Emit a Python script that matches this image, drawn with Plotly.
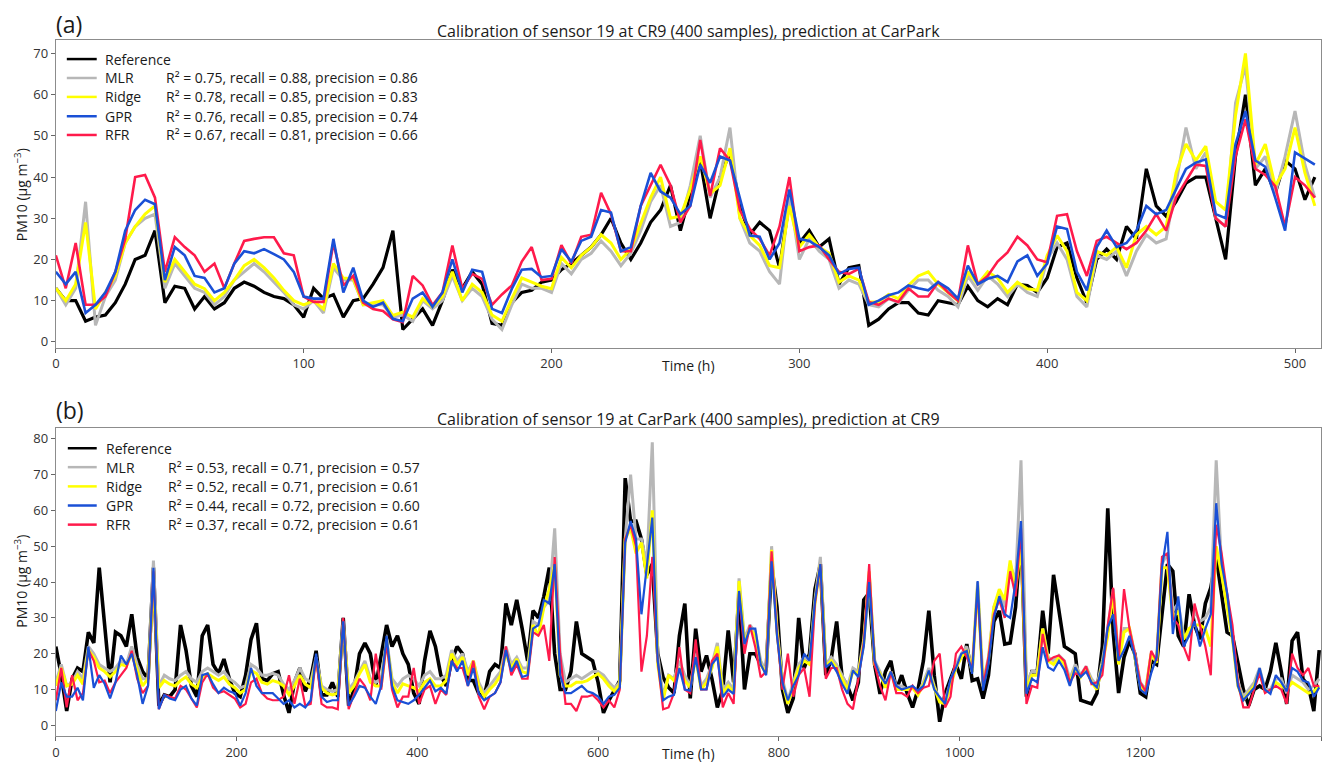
import plotly.graph_objects as go

W, H = 1334, 764

# ---------------- data: panel (a) (every 4 h) ----------------
hours_a = list(range(0, 512, 4))

ref_a = [13, 10, 10, 5, 6, 6.5, 9.5, 14, 20, 21,
         27, 9.5, 13.5, 13, 8, 11, 8, 9.5, 13, 14.5,
         13.5, 12, 11, 10.5, 9, 6, 13, 10.5, 11.5, 6,
         10, 10.5, 14, 18, 27, 3, 5.5, 8, 4, 10,
         17.5, 13, 17, 14, 4.5, 4, 9.5, 12, 12.5, 14.5,
         15, 17.5, 19, 21, 23, 26, 30, 24, 20, 24,
         29, 32, 38, 27, 36, 44, 30, 40, 46, 33,
         26, 29, 27, 18, 34, 24, 27, 23, 25, 14,
         18, 18.5, 4, 5.5, 8, 9.5, 9.5, 7, 6.5, 10,
         9.5, 9, 13.5, 10, 8.5, 10.5, 9, 14, 13.7, 12,
         15.5, 23, 24, 15.5, 9.5, 20, 22.5, 20, 28, 25,
         42, 33, 30.5, 34, 38.5, 40, 40, 30, 20, 45,
         60, 38, 42, 36, 44, 42, 34.5, 40]

mlr_a = [13, 9, 13, 34, 4, 11, 15, 24, 28, 30,
         31, 13, 19, 16, 13, 12, 9, 11, 15, 17,
         19, 17, 14.5, 12, 9, 8, 10, 7, 18, 15,
         15, 9, 9, 9, 6, 6.5, 5, 10, 8, 10,
         16, 10, 13, 11, 5.5, 3, 9, 14, 13, 13,
         12, 19, 16.5, 20, 21.5, 24.5, 22, 18.5, 21.5, 27,
         34, 38, 28, 29, 38, 50, 35, 40, 52, 30,
         24, 22, 17, 14, 36, 20, 25, 22, 20, 13,
         15, 14, 9, 8.5, 10.5, 9.5, 12.5, 15, 15, 12.5,
         11, 8.5, 16, 12.5, 16, 14, 11, 14, 12, 11,
         20, 24, 20, 11, 8.5, 21, 20, 22, 16, 22,
         26, 24, 25, 38, 52, 42, 46, 30, 28, 58,
         67, 42, 45, 36, 45, 56, 43, 35]

ridge_a = [13, 10, 14, 29, 8, 12, 16, 24, 28, 31,
           33, 14.5, 20, 17, 14, 12.9, 10, 12, 15, 18.5,
           20, 18, 15.5, 12.5, 10, 9, 10, 8, 19, 15.5,
           15.3, 9, 9.5, 10, 6.4, 7.2, 6, 10.5, 8.5, 11,
           17, 10, 14, 12, 6.5, 5, 10.5, 15.5, 14.5, 13.5,
           12.9, 20.5, 18, 21, 23, 26, 24, 20, 22.5, 29,
           35, 40, 30, 30.5, 37, 45, 36, 38, 47, 30,
           25.8, 23.4, 18.5, 18, 33, 23, 26, 23, 21.5, 14.5,
           16, 15, 9.7, 9.7, 11.5, 10.5, 13.7, 16, 17, 14,
           12, 10, 17, 14, 17, 15.5, 12, 14.5, 12.9, 12.5,
           21, 25.8, 22, 12, 10, 22, 21, 23, 18, 26,
           28, 26, 28, 41, 48, 44, 47.5, 34, 32, 55,
           70, 43, 48, 37.8, 42, 52, 41, 33]

gpr_a = [17, 14, 17, 7, 9, 12, 17, 27, 32, 34.5,
         33.4, 15, 23, 21, 16, 15.5, 12, 13, 19, 22,
         21.5, 22.5, 21.3, 20, 17, 11, 10.5, 10.5, 25, 12,
         18, 10, 8.5, 9.5, 5.6, 5, 10.5, 12, 8.5, 12,
         20, 12, 17.5, 17, 8, 7, 12.9, 17.5, 17.7, 15.7,
         16, 22.5, 19.5, 24.5, 25.5, 32, 31.4, 22, 23, 33,
         41, 36.5, 35, 31, 33, 43, 38.6, 45, 44, 35,
         25.8, 25.5, 20, 24, 37, 25, 24.5, 23, 21, 16.5,
         17.7, 18, 9, 10, 11.3, 12, 13.7, 13, 12.5, 14.5,
         13, 10.5, 18.5, 14, 15.3, 16, 14.5, 19.5, 21, 16,
         19, 28, 27.4, 17, 12.5, 23, 27, 23, 24, 27,
         33, 31, 32, 37, 42, 43.5, 44.3, 31, 30, 48,
         56, 44, 42.5, 35, 27, 46, 44.5, 43]

rfr_a = [21, 13, 24, 9, 9, 11, 17, 25, 40, 40.5,
         35, 17, 25.4, 23, 21, 17, 19, 13, 19, 24.5,
         25, 25.4, 25.4, 21.5, 21, 11, 9.7, 9.7, 24, 13.7,
         16, 9.5, 8, 7.5, 5.5, 4.8, 16, 13.7, 8.9, 12,
         23.4, 12.9, 16.5, 15.3, 9, 11.5, 13.7, 19.5, 23, 15,
         15.3, 23.5, 19, 25.5, 26, 36.2, 31, 22, 22, 33,
         38, 43, 38, 29, 33, 49, 35.4, 47, 44, 32,
         27.4, 25, 21, 28, 40, 22, 23, 23.4, 20, 17,
         16.5, 17.7, 9.7, 9, 10.5, 9.7, 13, 11, 11, 14.5,
         12, 10, 23.4, 14, 16, 19.5, 21.7, 25.5, 23.4, 20,
         19.3, 30.6, 31, 22, 16, 24.5, 25.5, 24, 22.5, 24,
         27, 31, 27, 35, 39, 43, 42.7, 30, 28, 45,
         54, 42, 40.5, 37.8, 28, 40, 38, 35]

# ---------------- data: panel (b) (every 6 h) ----------------
hours_b = list(range(0, 1400, 6))

ref_b = [22, 14, 4, 13, 16, 15, 26, 23, 44, 27,
         12, 26, 25, 22, 31, 19, 15, 13, 44, 5.5,
         8.5, 8, 10, 28, 21, 11, 8, 25, 28, 17,
         14.5, 18.5, 13, 9, 8, 14, 24, 28.5, 13, 12.5,
         14.4, 15, 8.5, 3.5, 12, 16, 9.5, 13, 20.8, 8.5,
         8.5, 12, 8, 30, 5.5, 10, 20, 23, 20, 11,
         19, 28, 22, 25, 20, 17, 9, 6, 18, 26.4,
         22, 14, 11, 18, 22, 20, 12.5, 12.5, 8.8, 8,
         15, 17, 16, 34, 28, 35, 27, 18, 32, 30,
         36, 44, 20, 10, 10, 15, 29, 20, 19, 18,
         12, 3.5, 7, 10, 12.5, 69, 57, 57, 52, 42,
         45, 20, 13.4, 10.6, 9, 25, 34, 7.5, 27, 15,
         19.5, 13, 5, 10, 26.5, 12, 37, 10, 20, 20,
         17, 15.5, 45, 33, 10, 3.5, 7.5, 30, 16, 20,
         38, 45, 14, 18.5, 29, 13.5, 11, 7, 12, 35,
         37, 17, 8.8, 15, 18, 10, 14, 9, 5, 10,
         18, 32, 14, 1, 8.8, 13, 17, 13, 22.7, 12.5,
         13, 7.5, 14, 29, 32, 22.7, 23, 33, 53, 8,
         15, 15, 32, 20, 42, 32, 22, 21, 20, 7,
         6.5, 6, 9, 22, 60.6, 26, 9, 19, 23.6, 20,
         9, 8, 18, 17, 31, 45, 43, 25, 22, 36.6,
         28, 24, 34, 38.4, 47, 36, 26, 25, 17, 10,
         5.5, 10, 11, 10, 15, 23, 15, 6, 23.6, 26,
         13, 11, 4, 21]

mlr_b = [12, 17, 11, 12, 15, 13, 22, 20, 17, 16,
         15, 16, 18, 17, 22, 17, 13, 13, 46, 11,
         14, 13, 12.5, 14, 15, 13, 12, 15, 16, 15,
         14, 15, 13, 12, 10.5, 11, 17, 16, 14, 14,
         14.5, 14, 11.5, 10, 12.5, 16, 13, 12, 19, 11,
         10, 9.5, 10, 29, 10, 12, 15, 18, 13, 12,
         13, 24, 13, 11, 13, 14, 13, 11, 14, 15,
         13, 13, 14, 21, 18, 20, 15, 18, 12, 9,
         11, 13, 15, 22, 17, 19, 16, 16, 29, 28,
         33, 35, 55, 20, 12, 13, 14, 13, 14, 15,
         15, 14, 12, 10.5, 12, 52, 70, 52, 52, 45,
         79, 20, 8, 14, 13, 18, 14, 11, 20, 11,
         13, 17, 23, 10, 12, 10, 41, 24, 28, 26,
         18, 15, 50, 27, 13, 7, 12, 17, 19, 18,
         35, 47, 17, 19, 17, 14, 11, 16, 15, 24,
         42, 18, 15, 11, 15, 11, 11, 10, 11, 9,
         12, 16, 11, 7, 7, 12, 17, 20, 22, 15,
         40, 12, 19, 33, 37, 33, 45, 40, 74, 12,
         15, 15, 27, 19, 18, 19.5, 18, 13, 17, 14,
         16.5, 13, 11, 18, 27, 38, 18, 27, 27, 20,
         12, 10, 20, 18, 45, 48, 32, 34, 25, 25,
         32, 29, 30, 33, 74, 44, 36, 25, 12, 8,
         10, 12, 16, 10, 10, 13, 13, 9, 14, 13,
         12, 10, 11, 13]

ridge_b = [11, 16, 11, 11.5, 14, 11.5, 21, 19, 16, 15,
           13.5, 15, 17, 16.5, 20, 15.5, 11, 13, 40, 10.5,
           12.5, 11.5, 11, 12.5, 13.5, 11.5, 10.5, 13.5, 14.4, 13.4,
           12.5, 13.5, 11.5, 10.5, 9, 10, 15.3, 14.5, 12, 11.5,
           12.5, 12, 11, 8.5, 11, 14, 11.5, 10.5, 18, 10.5,
           9, 8.5, 9, 28, 9, 11, 14.4, 17, 12, 11,
           11, 23.6, 12, 9, 11.6, 11, 10.5, 9.5, 12, 13,
           11, 11, 12.5, 20, 17, 19, 14, 18, 11, 8,
           10, 11.5, 14, 20, 16, 18.5, 15, 14.5, 28, 25,
           33, 38, 45, 14, 11, 11, 12, 12, 12.5, 13.5,
           14.4, 13, 11, 9.5, 11.5, 52, 55, 48, 51, 41,
           60, 17, 7, 14, 12.5, 16, 12.5, 10.5, 19, 10,
           12, 16, 22, 9, 11, 9, 40.3, 23, 27, 25,
           17, 14.5, 49, 26, 12, 6, 11, 16, 18, 17,
           34, 45, 16.5, 18, 16, 13, 10, 15, 14.5, 23,
           43, 17, 14.5, 10.5, 15, 10, 10, 10, 10.5, 8.5,
           11.5, 15, 10.5, 6.5, 6, 11, 16, 19, 21, 15,
           39, 11, 18, 33, 38, 35, 46, 38, 50, 10,
           14, 14, 27, 18, 17, 19, 17, 12, 16, 13.5,
           16, 12, 10, 17, 25, 37, 17, 26, 27, 19,
           11, 9.5, 20, 17.5, 44, 44, 30, 32, 24, 27,
           28, 28, 27, 22, 50, 42, 33, 24, 11, 7,
           9, 11, 15, 9.5, 9.5, 12, 11, 10, 12, 11,
           10, 9, 9.5, 11]

gpr_b = [4, 12, 8, 8, 10.5, 7, 22, 10.5, 14, 11.6,
         7.5, 12, 19.5, 17, 20, 14, 6, 11, 44, 4.5,
         8.5, 7.5, 7, 10, 11, 7.5, 5.5, 14, 14.5, 11.5,
         9, 10.5, 9.5, 9, 5.5, 9, 16, 11, 9, 9,
         9, 7.5, 6, 7, 5, 6, 5, 7, 20, 8,
         6.5, 7, 7, 29, 5.5, 8, 11, 10.5, 8, 6,
         11, 25, 11, 7, 6.5, 6, 7, 8.5, 10.5, 12.5,
         9.5, 10.5, 8.8, 18, 15, 18, 11, 16, 8.8, 7,
         8, 9, 12, 21, 15, 18, 13.5, 14, 27, 28,
         35, 34, 45, 14, 9, 9, 10, 11, 9.5, 9,
         8, 6, 8, 8.5, 10.5, 51, 57, 52, 31, 45,
         58, 18, 7, 8, 8.5, 16, 10, 9.7, 19, 10,
         10, 17, 19, 7.9, 10, 8.8, 37.5, 22.7, 27, 27,
         17, 14, 45.8, 25, 12, 7, 11, 14, 20, 18,
         34.7, 45, 16.2, 17.5, 15, 11.6, 8.8, 15.3, 13.5, 22,
         40, 18, 14, 11.6, 15, 11, 10, 10.5, 11, 9.7,
         11, 15.3, 10, 7.9, 6, 13, 16, 20, 20.8, 14.4,
         40.3, 9.7, 17, 30, 36, 31, 30, 40, 57, 8.8,
         13, 12, 21.8, 16.2, 15.3, 18, 15.5, 11, 16.2, 13.5,
         15, 12, 10.6, 17, 27.3, 31, 18, 21, 25, 19,
         10, 8.8, 14.5, 19, 44, 54, 25.5, 36, 22, 25,
         29, 22, 27, 31, 62, 45, 37, 24, 11, 7,
         8.8, 10.5, 16, 10, 8.8, 14, 12, 9.5, 16, 15,
         12.5, 12, 8, 10.6]

rfr_b = [7, 16, 5, 14, 7, 9, 21, 18, 12, 12.5,
         9, 12, 14, 16, 20.8, 13, 9, 11, 43, 4.5,
         8.5, 8, 7.5, 11, 10, 7.5, 5, 12, 14.4, 10.5,
         9, 9.5, 8.5, 7.5, 5, 6, 12, 13, 9, 7.5,
         7, 7, 8, 14, 6, 13, 5.5, 6, 19, 6,
         5, 5, 4.5, 30, 4.5, 9, 13, 11, 7, 20,
         10, 23, 10, 5, 8, 8, 16, 6, 10, 11,
         6, 10, 8.5, 18, 16, 16, 11, 18, 8, 4.5,
         8, 9, 12, 22, 14, 17, 13, 13, 26, 25,
         28, 18, 47, 20, 6, 6, 4, 8, 8, 8.5,
         7, 5, 7, 5, 10, 52, 56, 50, 15, 25,
         47, 18, 4.5, 5, 9, 21.8, 10, 9, 24, 10,
         10, 18, 20, 5, 9, 6, 37, 20, 28, 21.8,
         13.4, 15, 48.6, 25.5, 10, 20, 8, 14, 16, 8,
         34, 45, 13, 16, 16, 10, 6, 4.5, 13, 23,
         45, 17, 11, 7, 15, 9, 9, 8, 11, 9,
         10.5, 11, 18, 20, 5, 8, 20, 22, 19, 16,
         38, 11, 19, 31, 35, 30, 43, 36, 55, 6,
         11, 10.5, 25.5, 18, 19, 19.5, 18, 12, 14.5, 14,
         16.5, 11.5, 12, 14, 28, 38.4, 18, 38, 27, 20,
         12, 9.5, 20.8, 18, 47, 48, 30, 28, 22, 18,
         34, 28, 22, 14, 56, 48, 37, 28, 12, 5,
         5, 10, 14.5, 9, 10, 11, 10, 6, 20, 16,
         14, 16, 11, 11]

# ---------------- labels ----------------
series_names = ["Reference", "MLR", "Ridge", "GPR", "RFR"]
stats_a = ["R² = 0.75, recall = 0.88, precision = 0.86",
           "R² = 0.78, recall = 0.85, precision = 0.83",
           "R² = 0.76, recall = 0.85, precision = 0.74",
           "R² = 0.67, recall = 0.81, precision = 0.66"]
stats_b = ["R² = 0.53, recall = 0.71, precision = 0.57",
           "R² = 0.52, recall = 0.71, precision = 0.61",
           "R² = 0.44, recall = 0.72, precision = 0.60",
           "R² = 0.37, recall = 0.72, precision = 0.61"]
title_a = "Calibration of sensor 19 at CR9 (400 samples), prediction at CarPark"
title_b = "Calibration of sensor 19 at CarPark (400 samples), prediction at CR9"
x_label = "Time (h)"
y_label = "PM10 (μg m<sup>−3</sup>)"

colors = {"Reference": "#000000", "MLR": "#b7b7b7", "Ridge": "#ffff00",
          "GPR": "#1a50d6", "RFR": "#ff1a4b"}

FONT = "Open Sans, Lato, DejaVu Sans, sans-serif"


def px(x):
    return x / W


def py(y):
    return 1 - y / H


fig = go.Figure()

data_a = {"Reference": ref_a, "MLR": mlr_a, "Ridge": ridge_a, "GPR": gpr_a, "RFR": rfr_a}
data_b = {"Reference": ref_b, "MLR": mlr_b, "Ridge": ridge_b, "GPR": gpr_b, "RFR": rfr_b}
draw_order = ["Reference", "MLR", "Ridge", "RFR", "GPR"]
widths_a = {"Reference": 3.2, "MLR": 3, "Ridge": 3, "RFR": 2.6, "GPR": 2.6}
widths_b = {"Reference": 3.6, "MLR": 3, "Ridge": 3, "RFR": 2.2, "GPR": 2.2}

for name in draw_order:
    fig.add_trace(go.Scatter(x=hours_a, y=data_a[name], mode="lines", name=name,
                             line=dict(color=colors[name], width=widths_a[name]),
                             xaxis="x", yaxis="y", showlegend=False))
for name in draw_order:
    fig.add_trace(go.Scatter(x=hours_b, y=data_b[name], mode="lines", name=name,
                             line=dict(color=colors[name], width=widths_b[name]),
                             xaxis="x2", yaxis="y2", showlegend=False))

axis_common = dict(showline=True, mirror=True, linecolor="#8c8c8c", linewidth=1,
                   ticks="outside", ticklen=4, tickcolor="#666666", tickwidth=1,
                   showgrid=False, zeroline=False,
                   tickfont=dict(family=FONT, size=13, color="#333333"))

x_dom = [px(52), px(1321)]
fig.update_layout(
    width=W, height=H,
    margin=dict(l=0, r=0, t=0, b=0),
    paper_bgcolor="white", plot_bgcolor="white",
    showlegend=False,
    xaxis=dict(domain=x_dom, range=[0, 510.5], dtick=100, anchor="y", **axis_common),
    yaxis=dict(domain=[py(349), py(40)], range=[-1.4, 73.3], dtick=10, anchor="x", **axis_common),
    xaxis2=dict(domain=x_dom, range=[0, 1400], dtick=200, anchor="y2", **axis_common),
    yaxis2=dict(domain=[py(739), py(430)], range=[-3, 82.9], dtick=10, anchor="x2", **axis_common),
)

annotations = []
shapes = []


def text(x, y, s, size=14, xanchor="left", angle=0):
    annotations.append(dict(x=px(x), y=py(y), xref="paper", yref="paper", text=s,
                            showarrow=False, xanchor=xanchor, yanchor="middle",
                            textangle=angle, borderpad=0,
                            font=dict(family=FONT, size=size, color="#1a1a1a")))


# panel labels and titles
text(51, 24, "(a)", size=23)
text(686.5, 31, title_a, size=16, xanchor="center")
text(51, 412, "(b)", size=23)
text(686.5, 421, title_b, size=16, xanchor="center")
text(686.5, 367, x_label, size=14, xanchor="center")
text(686.5, 756, x_label, size=14, xanchor="center")
text(17, 195, y_label, size=14, xanchor="center", angle=-90)
text(17, 583, y_label, size=14, xanchor="center", angle=-90)


def legend(rows_y, line_x0, line_x1, label_x, stats_x, stats):
    for i, name in enumerate(series_names):
        yy = py(rows_y[i])
        shapes.append(dict(type="line", xref="paper", yref="paper",
                           x0=px(line_x0), x1=px(line_x1), y0=yy, y1=yy,
                           line=dict(color=colors[name], width=2.5)))
        text(label_x, rows_y[i], name, size=14)
        if i > 0:
            text(stats_x, rows_y[i], stats[i - 1], size=14)


legend([59.3, 78.3, 97.3, 116.7, 135.5], 63, 93, 100, 161, stats_a)
legend([450, 469, 488.3, 507.5, 526.7], 64, 93, 101, 163, stats_b)

fig.update_layout(annotations=annotations, shapes=shapes)
fig.write_html("out.html")
